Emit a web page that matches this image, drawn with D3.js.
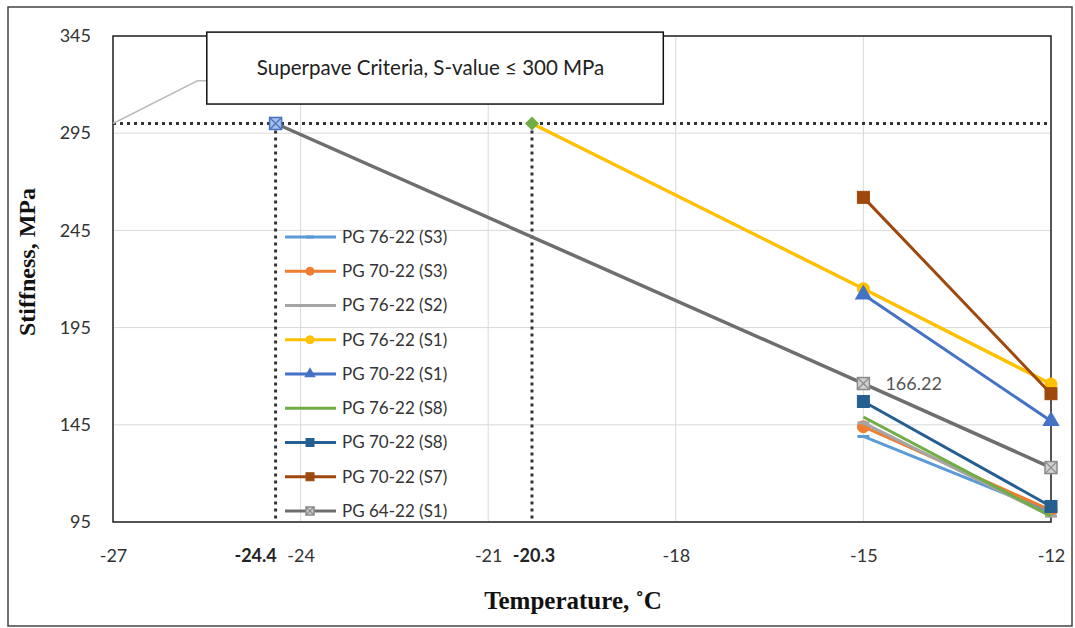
<!DOCTYPE html>
<html>
<head>
<meta charset="utf-8">
<script src="https://cdn.jsdelivr.net/npm/d3@7"></script>
<style>
  body { margin: 0; background: #fff; }
  svg { display: block; }
</style>
</head>
<body>
<div id="chart"></div>
<script>

// ======================= //
// DATA
// ======================= //

var seriesNames = ["PG 76-22 (S3)", "PG 70-22 (S3)", "PG 76-22 (S2)", "PG 76-22 (S1)", "PG 70-22 (S1)",
                   "PG 76-22 (S8)", "PG 70-22 (S8)", "PG 70-22 (S7)", "PG 64-22 (S1)"]
var seriesColors = ["#5B9BD5", "#ED7D31", "#A5A5A5", "#FFC000", "#4472C4",
                    "#70AD47", "#255E91", "#9E480E", "#6E6E6E"]
var seriesMarkers = ["dash", "circle", "dash", "circle", "triangle", "none", "square", "square", "xsquare"]

// temperatures of each series
var seriesTemps = [
  [-15, -12], [-15, -12], [-15, -12], [-20.3, -15, -12], [-15, -12],
  [-15, -12], [-15, -12], [-15, -12], [-24.4, -15, -12]
]
// stiffness values, MPa
var seriesValues = [
  [139, 100], [144, 101], [146, 98], [300, 215, 166], [212, 147],
  [149, 98], [157, 103], [262, 161], [300, 166.22, 123]
]

// critical temperatures where S = 300 MPa
var critTemps = [-24.4, -20.3]
var critValue = 300
var critColors = ["#4472C4", "#70AD47"]
var critShapes = ["xsquare", "diamond"]

var xTicks = [-27, -24, -21, -18, -15, -12]
var yTicks = [95, 145, 195, 245, 295, 345]

var calloutText = "Superpave Criteria, S-value \u2264 300 MPa"
var pointLabel = "166.22"


// ======================= //
// SVG AREAS
// ======================= //

var W = 1075, H = 628
var margin = {top: 36, right: 24, bottom: 106, left: 113},
  width = 1051 - margin.left,
  height = 522 - margin.top

var root = d3.select("#chart")
  .append("svg")
    .attr("width", W)
    .attr("height", H)

// outer frame
root.append("rect")
  .attr("x", 8).attr("y", 7)
  .attr("width", 1064).attr("height", 619)
  .style("fill", "none")
  .style("stroke", "#444")
  .style("stroke-width", 1.5)

var svg = root.append("g")
  .attr("transform", "translate(" + margin.left + "," + margin.top + ")")

var x = d3.scaleLinear().domain([-27, -12]).range([0, width])
var y = d3.scaleLinear().domain([95, 345]).range([height, 0])


// ======================= //
// GRID and AXES
// ======================= //

svg.append("g")
  .selectAll("line")
  .data(xTicks)
  .enter().append("line")
    .attr("x1", function(d){ return x(d) }).attr("x2", function(d){ return x(d) })
    .attr("y1", 0).attr("y2", height)
    .style("stroke", "#d9d9d9").style("stroke-width", 1)

svg.append("g")
  .selectAll("line")
  .data(yTicks)
  .enter().append("line")
    .attr("x1", 0).attr("x2", width)
    .attr("y1", function(d){ return y(d) }).attr("y2", function(d){ return y(d) })
    .style("stroke", "#d9d9d9").style("stroke-width", 1)

svg.append("rect")
  .attr("width", width).attr("height", height)
  .style("fill", "none")
  .style("stroke", "#222")
  .style("stroke-width", 1.5)

var xAxis = svg.append("g")
  .attr("transform", "translate(0," + height + ")")
  .call(d3.axisBottom(x).tickValues(xTicks).tickSize(0).tickPadding(27).tickFormat(function(d){ return String(d) }))
xAxis.select(".domain").remove()
xAxis.selectAll("text")
  .style("font-family", "Lato, 'Open Sans', sans-serif")
  .style("font-size", "18px")
  .style("fill", "#333")

var yAxis = svg.append("g")
  .call(d3.axisLeft(y).tickValues(yTicks).tickSize(0).tickPadding(22))
yAxis.select(".domain").remove()
yAxis.selectAll("text")
  .style("font-family", "Lato, 'Open Sans', sans-serif")
  .style("font-size", "18px")
  .style("fill", "#333")

// bold labels for the critical temperatures
svg.selectAll(".critLabel")
  .data(critTemps)
  .enter().append("text")
    .attr("class", "critLabel")
    .attr("x", function(d, i){ return x(d) + (i == 0 ? -20 : 2) })
    .attr("y", height + 27)
    .attr("dy", "0.71em")
    .style("text-anchor", "middle")
    .style("font-family", "Lato, 'Open Sans', sans-serif")
    .style("font-weight", "bold")
    .style("font-size", "18px")
    .style("fill", "#222")
    .text(function(d){ return d })

// axis titles
root.append("text")
  .attr("x", 573)
  .attr("y", 609)
  .style("text-anchor", "middle")
  .style("font-family", "'Liberation Serif', 'Times New Roman', serif")
  .style("font-weight", "bold")
  .style("font-size", "25px")
  .style("fill", "#111")
  .text("Temperature, \u02DAC")

root.append("text")
  .attr("transform", "translate(35,262)rotate(-90)")
  .style("text-anchor", "middle")
  .style("font-family", "'Liberation Serif', 'Times New Roman', serif")
  .style("font-weight", "bold")
  .style("font-size", "24px")
  .style("fill", "#111")
  .text("Stiffness, MPa")


// ======================= //
// CRITERIA LINES
// ======================= //

svg.append("line")
  .attr("x1", x(-27)).attr("x2", x(-12) - 4)
  .attr("y1", y(critValue)).attr("y2", y(critValue))
  .style("stroke", "#333").style("stroke-width", 3)
  .style("stroke-dasharray", "3,4")

svg.selectAll(".critLine")
  .data(critTemps)
  .enter().append("line")
    .attr("class", "critLine")
    .attr("x1", function(d){ return x(d) }).attr("x2", function(d){ return x(d) })
    .attr("y1", y(critValue)).attr("y2", height)
    .style("stroke", "#333").style("stroke-width", 3)
    .style("stroke-dasharray", "3,4")

// callout box with leader line
svg.append("polyline")
  .attr("points", [[x(-27), y(critValue)], [x(-25.65), y(322)], [x(-25.5), y(322)]].join(" "))
  .style("fill", "none").style("stroke", "#bbb").style("stroke-width", 1.5)

svg.append("rect")
  .attr("x", x(-25.5)).attr("y", y(347))
  .attr("width", x(-18.2) - x(-25.5)).attr("height", y(310) - y(347))
  .style("fill", "#fff").style("stroke", "#111").style("stroke-width", 1.5)

svg.append("text")
  .attr("x", x(-24.7)).attr("y", y(328.5))
  .attr("dy", "0.35em")
  .style("font-family", "Lato, 'Open Sans', sans-serif")
  .style("font-size", "20.5px")
  .style("fill", "#222")
  .text(calloutText)


// ======================= //
// SERIES
// ======================= //

function drawMarker(g, shape, color, size, fill) {
  var s = size
  if (shape == "circle") {
    g.append("circle").attr("r", s / 2).style("fill", color).style("stroke", color)
  } else if (shape == "square") {
    g.append("rect").attr("x", -s / 2).attr("y", -s / 2).attr("width", s).attr("height", s)
      .style("fill", color).style("stroke", color)
  } else if (shape == "triangle") {
    g.append("path").attr("d", d3.symbol().type(d3.symbolTriangle).size(s * s * 0.9)())
      .style("fill", color)
  } else if (shape == "diamond") {
    g.append("path").attr("d", "M0," + (-s / 2 - 1) + "L" + (s / 2 + 1) + ",0L0," + (s / 2 + 1) + "L" + (-s / 2 - 1) + ",0Z")
      .style("fill", color)
  } else if (shape == "dash") {
    g.append("rect").attr("x", -s / 2).attr("y", -1.5).attr("width", s).attr("height", 3)
      .style("fill", color)
  } else if (shape == "xsquare") {
    g.append("rect").attr("x", -s / 2).attr("y", -s / 2).attr("width", s).attr("height", s)
      .style("fill", fill || "#d0d0d0").style("stroke", color).style("stroke-width", 1.5)
    g.append("path").attr("d", "M" + (-s / 2) + "," + (-s / 2) + "L" + (s / 2) + "," + (s / 2) + "M" + (s / 2) + "," + (-s / 2) + "L" + (-s / 2) + "," + (s / 2))
      .style("stroke", color).style("stroke-width", 1.2)
  }
}

var line = d3.line()
  .x(function(d){ return x(d[0]) })
  .y(function(d){ return y(d[1]) })

seriesNames.forEach(function(name, i){
  var pts = seriesTemps[i].map(function(t, j){ return [t, seriesValues[i][j]] })
  svg.append("path")
    .datum(pts)
    .attr("d", line)
    .style("fill", "none")
    .style("stroke", seriesColors[i])
    .style("stroke-width", i == 8 || i == 3 ? 3.5 : 3)
  pts.forEach(function(p){
    if (critTemps.indexOf(p[0]) >= 0) return
    var g = svg.append("g").attr("transform", "translate(" + x(p[0]) + "," + y(p[1]) + ")")
    drawMarker(g, seriesMarkers[i], i == 8 ? "#8a8a8a" : seriesColors[i], 12)
  })
})

// S = 300 intercept markers
critTemps.forEach(function(t, i){
  var g = svg.append("g").attr("transform", "translate(" + x(t) + "," + y(critValue) + ")")
  drawMarker(g, critShapes[i], critColors[i], 12, "#a9bfe6")
})

// data label
svg.append("text")
  .attr("x", x(-15) + 22).attr("y", y(166.22))
  .attr("dy", "0.35em")
  .style("font-family", "Lato, 'Open Sans', sans-serif")
  .style("font-size", "18px")
  .style("fill", "#555")
  .text(pointLabel)


// ======================= //
// LEGEND
// ======================= //

var legend = root.append("g")
  .attr("transform", "translate(285,237)")

seriesNames.forEach(function(name, i){
  var row = legend.append("g").attr("transform", "translate(0," + (i * 34.25) + ")")
  row.append("line")
    .attr("x1", 0).attr("x2", 51)
    .style("stroke", seriesColors[i]).style("stroke-width", 3)
  var m = row.append("g").attr("transform", "translate(25,0)")
  drawMarker(m, seriesMarkers[i], i == 8 ? "#8a8a8a" : seriesColors[i], 8)
  row.append("text")
    .attr("x", 57).attr("dy", "0.35em")
    .style("font-family", "Lato, 'Open Sans', sans-serif")
    .style("font-size", "17px")
    .style("fill", "#333")
    .text(name)
})

</script>
</body>
</html>
